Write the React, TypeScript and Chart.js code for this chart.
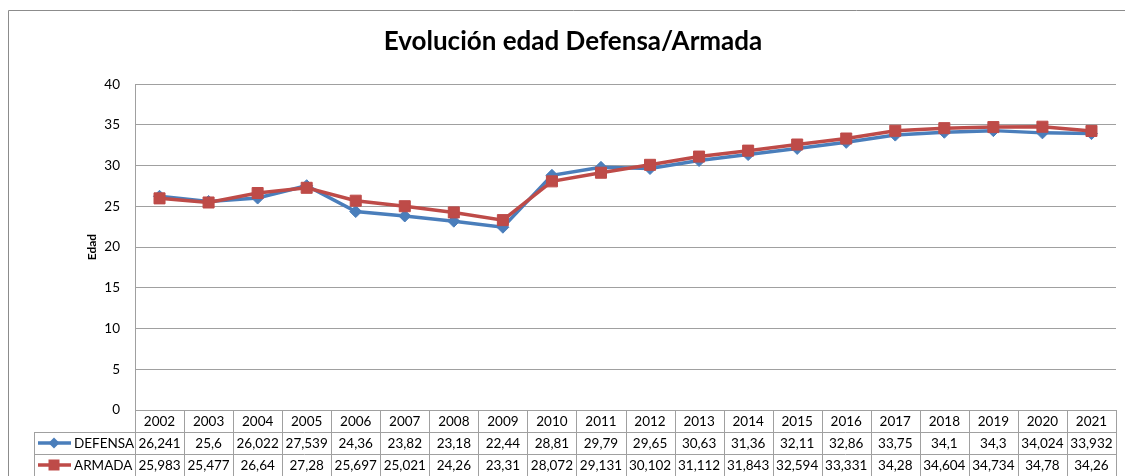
import React, { useEffect, useRef } from "react";
import { Chart, registerables } from "chart.js";

Chart.register(...registerables);

const years = ["2002","2003","2004","2005","2006","2007","2008","2009","2010","2011","2012","2013","2014","2015","2016","2017","2018","2019","2020","2021"];
const defensa = [26.241,25.6,26.022,27.539,24.36,23.82,23.18,22.44,28.81,29.79,29.65,30.63,31.36,32.11,32.86,33.75,34.1,34.3,34.024,33.932];
const armada = [25.983,25.477,26.64,27.28,25.697,25.021,24.26,23.31,28.072,29.131,30.102,31.112,31.843,32.594,33.331,34.28,34.604,34.734,34.78,34.26];
const seriesNames = ["DEFENSA", "ARMADA"];
const titleText = "Evolución edad Defensa/Armada";
const yTitle = "Edad";

const BLUE = "#4A7EBB";
const RED = "#BE4B48";
const GRID = "#A0A0A0";
const FONT = 'Lato, "Open Sans", sans-serif';

const fmt = (v: number) => String(v).replace(".", ",");

const frameBorder = {
  id: "frameBorder",
  beforeDraw(chart: any) {
    const ctx = chart.ctx;
    ctx.save();
    ctx.strokeStyle = "#8C8C8C";
    ctx.lineWidth = 1;
    ctx.beginPath();
    ctx.moveTo(0.5, chart.height + 10);
    ctx.lineTo(0.5, 2.5);
    ctx.lineTo(chart.width + 10, 2.5);
    ctx.stroke();
    ctx.restore();
  },
};

const dataTable = {
  id: "dataTable",
  afterDraw(chart: any) {
    const ctx = chart.ctx;
    const area = chart.chartArea;
    const xs = chart.scales.x;
    const n = years.length;
    const colW = (area.right - area.left) / n;
    const top = area.bottom;
    const rowH = 22;
    const legLeft = 26;
    ctx.save();
    ctx.strokeStyle = GRID;
    ctx.lineWidth = 1;
    const hl = (x1: number, x2: number, y: number) => {
      ctx.beginPath();
      ctx.moveTo(x1, Math.round(y) + 0.5);
      ctx.lineTo(x2, Math.round(y) + 0.5);
      ctx.stroke();
    };
    const vl = (x: number, y1: number, y2: number) => {
      ctx.beginPath();
      ctx.moveTo(Math.round(x) + 0.5, y1);
      ctx.lineTo(Math.round(x) + 0.5, y2);
      ctx.stroke();
    };
    hl(area.left, area.right, top);
    hl(legLeft, area.right, top + rowH);
    hl(legLeft, area.right, top + rowH * 2);
    hl(legLeft, area.right, top + rowH * 3);
    for (let i = 0; i <= n; i++) {
      vl(area.left + i * colW, top, top + rowH * 3 + 10);
    }
    vl(legLeft, top + rowH, top + rowH * 3 + 10);

    ctx.fillStyle = "#000";
    ctx.font = `13.5px ${FONT}`;
    ctx.textAlign = "center";
    ctx.textBaseline = "middle";
    years.forEach((yr, i) => {
      const cx = xs.getPixelForValue(i);
      ctx.fillText(yr, cx, top + rowH / 2 + 1);
      ctx.fillText(fmt(defensa[i]), cx, top + rowH * 1.5 + 1);
      ctx.fillText(fmt(armada[i]), cx, top + rowH * 2.5 + 1);
    });

    const keys = [
      { name: seriesNames[0], color: BLUE, style: "diamond" },
      { name: seriesNames[1], color: RED, style: "square" },
    ];
    keys.forEach((k, r) => {
      const cy = top + rowH * (1.5 + r);
      ctx.strokeStyle = k.color;
      ctx.fillStyle = k.color;
      ctx.lineWidth = 3.5;
      ctx.beginPath();
      ctx.moveTo(30, cy);
      ctx.lineTo(63, cy);
      ctx.stroke();
      ctx.beginPath();
      if (k.style === "diamond") {
        ctx.moveTo(46, cy - 5.5);
        ctx.lineTo(51.5, cy);
        ctx.lineTo(46, cy + 5.5);
        ctx.lineTo(40.5, cy);
        ctx.closePath();
      } else {
        ctx.rect(40.5, cy - 5.5, 11, 11);
      }
      ctx.fill();
      ctx.fillStyle = "#000";
      ctx.textAlign = "left";
      ctx.fillText(k.name, 66, cy + 1);
    });
    ctx.restore();
  },
};

export default function App() {
  const ref = useRef<HTMLCanvasElement>(null);
  useEffect(() => {
    if (!ref.current) return;
    const chart = new Chart(ref.current, {
      type: "line",
      data: {
        labels: years,
        datasets: [
          {
            label: seriesNames[0],
            data: defensa,
            borderColor: BLUE,
            backgroundColor: BLUE,
            borderWidth: 3.5,
            pointStyle: "rectRot",
            pointRadius: 6,
            pointBorderWidth: 1,
            tension: 0,
            order: 2,
          },
          {
            label: seriesNames[1],
            data: armada,
            borderColor: RED,
            backgroundColor: RED,
            borderWidth: 3.5,
            pointStyle: "rect",
            pointRadius: 7.8,
            pointBorderWidth: 1,
            tension: 0,
            order: 1,
          },
        ],
      },
      options: {
        animation: false,
        responsive: false,
        maintainAspectRatio: false,
        layout: { padding: { left: 22, right: 22, top: 0, bottom: 0 } },
        plugins: {
          legend: { display: false },
          tooltip: { enabled: false },
          title: {
            display: true,
            text: titleText,
            color: "#000",
            font: { family: FONT, size: 26, weight: "bold" },
            padding: { top: 18, bottom: 27 },
          },
        },
        scales: {
          x: {
            type: "category",
            offset: true,
            grid: { display: false },
            border: { display: false },
            ticks: { display: false },
            afterFit: (s: any) => { s.height = 78; },
          },
          y: {
            min: 0,
            max: 40,
            ticks: {
              stepSize: 5,
              color: "#000",
              padding: 15,
              font: { family: FONT, size: 13.5 },
            },
            grid: { color: GRID, lineWidth: 1, drawTicks: false },
            border: { color: GRID, width: 1 },
            title: {
              display: true,
              text: yTitle,
              color: "#000",
              font: { family: FONT, size: 12, weight: "bold" },
              padding: { top: 55, bottom: 0 },
            },
            afterFit: (s: any) => { s.width = 105; },
          },
        },
      },
      plugins: [frameBorder, dataTable],
    } as any);
    return () => chart.destroy();
  }, []);
  return (
    <div style={{ position: "fixed", left: 8, top: 8, width: 1117, height: 468, overflow: "hidden" }}>
      <canvas ref={ref} width={1130} height={480} style={{ width: 1130, height: 480, display: "block" }} />
    </div>
  );
}
